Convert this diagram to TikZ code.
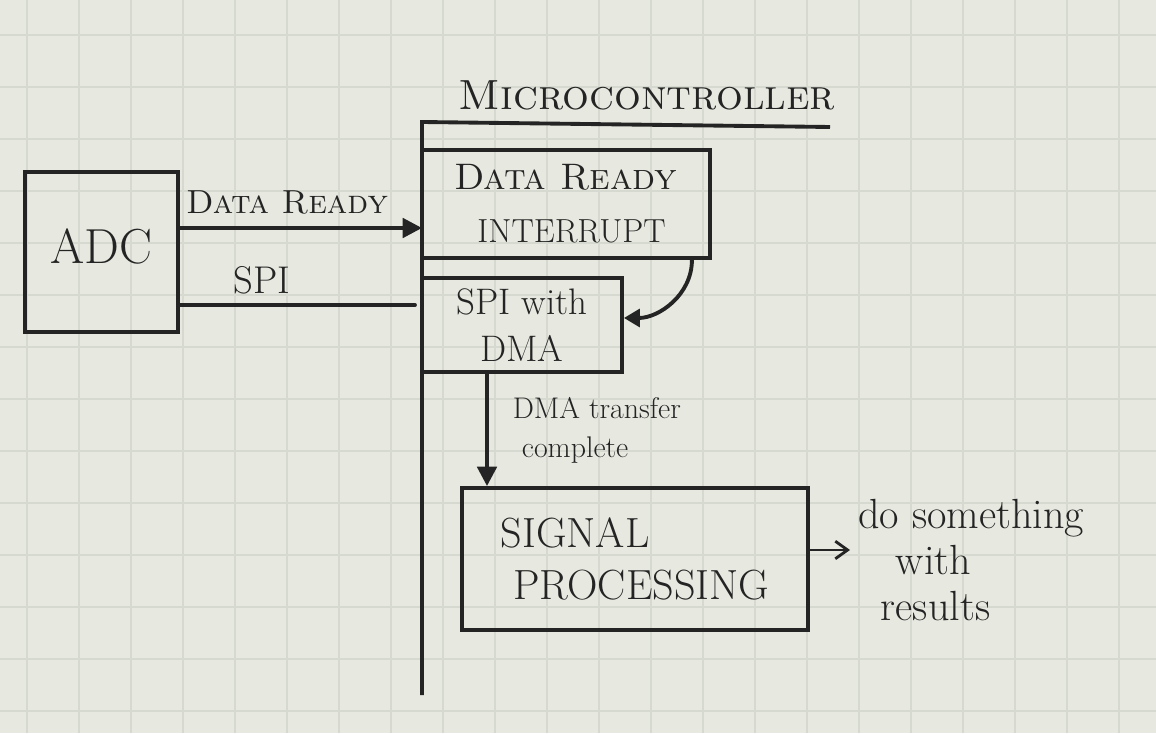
\documentclass[tikz,border=0pt]{standalone}
\usetikzlibrary{arrows.meta}
\definecolor{paper}{HTML}{E7E9E0}
\definecolor{gridln}{HTML}{D6D9CF}
\definecolor{ink}{HTML}{242424}

\begin{document}
\begin{tikzpicture}[
  blk/.style={draw=ink, line width=2.2pt, inner sep=0pt, align=center, text=ink},
  wire/.style={draw=ink, line width=2.2pt},
  lbl/.style={text=ink, inner sep=0pt, align=center},
  >={Triangle[length=11pt,width=11pt]}]
\useasboundingbox (0,0) rectangle (23.12,14.66);
\fill[paper] (0,0) rectangle (23.12,14.66);
\foreach \gx in {0.54,1.58,...,23.1}
  \draw[gridln,line width=0.8pt] (\gx,0) -- (\gx,14.66);
\foreach \gy in {13.96,12.92,...,0.1}
  \draw[gridln,line width=0.8pt] (0,\gy) -- (23.12,\gy);

\node[blk,minimum width=3.06cm,minimum height=3.2cm,font=\fontsize{28}{32}\selectfont]
  (adc) at (2.03,9.62) {\raisebox{0.25cm}{ADC}};
\node[lbl,font=\fontsize{24}{28}\selectfont] (mcutitle) at (12.94,12.75)
  {\textsc{Microcontroller}};
\coordinate (mcuend) at (16.6,12.12);
\coordinate (mcutop) at (8.44,12.22);
\coordinate (mcubot) at (8.44,0.76);
\draw[wire] (mcuend) -- (mcutop) -- (mcubot);

\node[blk,minimum width=5.76cm,minimum height=2.16cm,font=\fontsize{21}{30}\selectfont]
  (irq) at (11.32,10.58) {\textsc{Data Ready}\\ \ {\fontsize{19}{30}\selectfont INTERRUPT}};
\node[blk,minimum width=4cm,minimum height=1.88cm,font=\fontsize{21}{27}\selectfont]
  (spidma) at (10.44,8.16) {SPI with\\ DMA};
\node[blk,minimum width=6.92cm,minimum height=2.84cm,align=left,font=\fontsize{24}{30}\selectfont]
  (sigproc) at (12.7,3.48) {SIGNAL\\ \ PROCESSING};

\coordinate (drin) at (8.44,10.1);
\coordinate (spiin) at (8.3,8.56);
\draw[wire,->] (adc.east |- drin) -- (drin);
\draw[wire,line cap=round] (adc.east |- spiin) -- (spiin);
\node[lbl,font=\fontsize{19}{22}\selectfont] (drlbl) at (5.74,10.62) {\textsc{Data Ready}};
\node[lbl,font=\fontsize{22}{24}\selectfont] (spilbl) at (5.24,9.06) {SPI};

\draw[wire,>={Triangle[length=9pt,width=10pt]},->] ([xshift=-0.4cm]irq.south east)
  to[out=-90,in=0] ([yshift=0.14cm]spidma.east);

\coordinate (dmatop) at ([xshift=-0.7cm]spidma.south);
\draw[wire,->] (dmatop) -- (dmatop |- sigproc.north);
\node[lbl,anchor=west,align=left,font=\fontsize{17}{22}\selectfont] (dmalbl) at (10.25,6.05)
  {DMA transfer\\ \ complete};

\coordinate (resin) at (17.0,3.66);
\draw[wire,line width=1.6pt,-{Straight Barb[length=7pt,width=10pt]}] (sigproc.east |- resin) -- (resin);
\node[lbl,anchor=west,align=left,font=\fontsize{24}{26}\selectfont] (reslbl) at (17.16,3.46)
  {do something\\ \hspace{0.75cm}with\\ \hspace{0.45cm}results};
\end{tikzpicture}
\end{document}
